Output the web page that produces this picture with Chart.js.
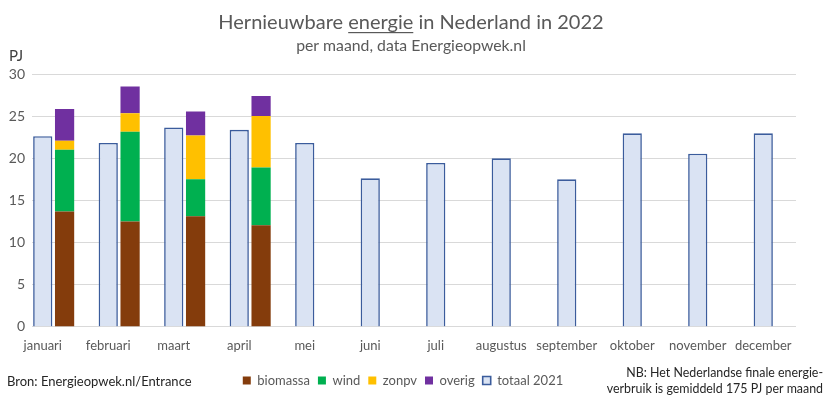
<!DOCTYPE html>
<html>
<head>
<meta charset="utf-8">
<script src="https://cdn.jsdelivr.net/npm/chart.js@4/dist/chart.umd.min.js"></script>
<style>
	html, body { margin: 0; padding: 0; background: #fff; }
	#wrap { width: 830px; height: 397px; }
</style>
</head>
<body>
<div id="wrap"><canvas id="chart"></canvas></div>
<script>
const months = ['januari', 'februari', 'maart', 'april', 'mei', 'juni', 'juli',
	'augustus', 'september', 'oktober', 'november', 'december'];

// PJ per maand, 2022 (alleen jan-apr bekend)
const biomassa = [13.65, 12.46, 13.1, 12.02, null, null, null, null, null, null, null, null];
const wind     = [7.35, 10.68, 4.4, 6.88, null, null, null, null, null, null, null, null];
const zonpv    = [1.06, 2.18, 5.2, 6.1, null, null, null, null, null, null, null, null];
const overig   = [3.77, 3.2, 2.85, 2.38, null, null, null, null, null, null, null, null];

const totaal2021 = [22.6, 21.8, 23.65, 23.37, 21.8, 17.6, 19.43, 19.98, 17.48, 22.95, 20.53, 22.95];

const yTicks = [0, 5, 10, 15, 20, 25, 30];

const FONT = 'Lato, "Open Sans", sans-serif';
const legendOrder = ['biomassa', 'wind', 'zonpv', 'overig', 'totaal 2021'];

// draws gridlines, y labels and the loose texts (title with underlined word, source, note)
const textsPlugin = {
	id: 'texts',
	beforeDatasetsDraw(chart) {
		const {ctx, chartArea, scales: {y}} = chart;
		const gridLeft = chartArea.left + 22;
		ctx.save();
		ctx.strokeStyle = '#d9d9d9';
		ctx.lineWidth = 1;
		ctx.font = '14px ' + FONT;
		ctx.fillStyle = '#595959';
		ctx.textAlign = 'right';
		ctx.textBaseline = 'middle';
		yTicks.forEach(v => {
			const py = Math.round(y.getPixelForValue(v)) + 0.5;
			ctx.beginPath();
			ctx.moveTo(gridLeft, py);
			ctx.lineTo(chartArea.right, py);
			ctx.stroke();
			ctx.fillText(String(v), gridLeft - 7, py);
		});
		ctx.restore();
	},
	afterDraw(chart) {
		const {ctx} = chart;
		ctx.save();
		ctx.textBaseline = 'alphabetic';

		// title, "energie" underlined
		const cx = 411;
		const parts = ['Hernieuwbare ', 'energie', ' in Nederland in 2022'];
		ctx.font = '20px ' + FONT;
		ctx.fillStyle = '#595959';
		const widths = parts.map(p => ctx.measureText(p).width);
		const total = widths.reduce((a, b) => a + b, 0);
		let x = cx - total / 2;
		ctx.textAlign = 'left';
		parts.forEach((p, i) => {
			ctx.fillText(p, x, 29);
			if (i === 1) {
				ctx.fillRect(x, 32, widths[i], 1.2);
			}
			x += widths[i];
		});

		ctx.font = '15.8px ' + FONT;
		ctx.textAlign = 'center';
		ctx.fillText('per maand, data Energieopwek.nl', cx, 51);

		ctx.font = '15px ' + FONT;
		ctx.fillStyle = '#404040';
		ctx.textAlign = 'left';
		ctx.fillText('PJ', 9, 61);

		ctx.font = '13px ' + FONT;
		ctx.fillStyle = '#262626';
		ctx.fillText('Bron: Energieopwek.nl/Entrance', 7, 386);

		ctx.font = '12.4px ' + FONT;
		ctx.textAlign = 'right';
		ctx.fillText('NB: Het Nederlandse finale energie-', 823, 377);
		ctx.fillText('verbruik is gemiddeld 175 PJ per maand', 823, 393);
		ctx.restore();
	}
};

function stackSet(label, data, color)
{
	return {
		label: label,
		data: data,
		backgroundColor: color,
		borderWidth: 0,
		stack: 'bron'
	};
}

const datasets = [
	{ // empty slot left of the 2021 bar
		label: '',
		data: months.map(() => null),
		stack: 'leeg'
	},
	{
		label: 'totaal 2021',
		data: totaal2021,
		backgroundColor: '#dae3f3',
		borderColor: '#3b5c9c',
		borderWidth: 1.6,
		stack: 'vorig'
	},
	stackSet('biomassa', biomassa, '#843c0c'),
	stackSet('wind', wind, '#00b050'),
	stackSet('zonpv', zonpv, '#ffc000'),
	stackSet('overig', overig, '#7030a0')
];

Chart.defaults.font.family = FONT;

const chart = new Chart('chart', {
	type: 'bar',
	data: {
		labels: months,
		datasets: datasets
	},
	options: {
		responsive: true,
		maintainAspectRatio: false,
		animation: false,
		categoryPercentage: 1.0,
		barPercentage: 0.88,
		layout: {
			padding: { top: 74, left: 10, right: 34, bottom: 0 }
		},
		scales: {
			x: {
				stacked: true,
				grid: { display: false, drawTicks: false },
				border: { display: false },
				ticks: {
					color: '#595959',
					font: { size: 13 },
					padding: 12,
					maxRotation: 0,
					autoSkip: false
				}
			},
			y: {
				display: false,
				stacked: true,
				min: 0,
				max: 30
			}
		},
		plugins: {
			title: { display: false },
			tooltip: { enabled: false },
			legend: {
				display: true,
				position: 'bottom',
				labels: {
					color: '#595959',
					font: { size: 13 },
					boxWidth: 8,
					boxHeight: 8,
					padding: 8,
					filter: function(item, data) { return item.text !== ''; },
					sort: function(a, b) { return legendOrder.indexOf(a.text) - legendOrder.indexOf(b.text); }
				}
			}
		}
	},
	plugins: [textsPlugin]
});
</script>
</body>
</html>
